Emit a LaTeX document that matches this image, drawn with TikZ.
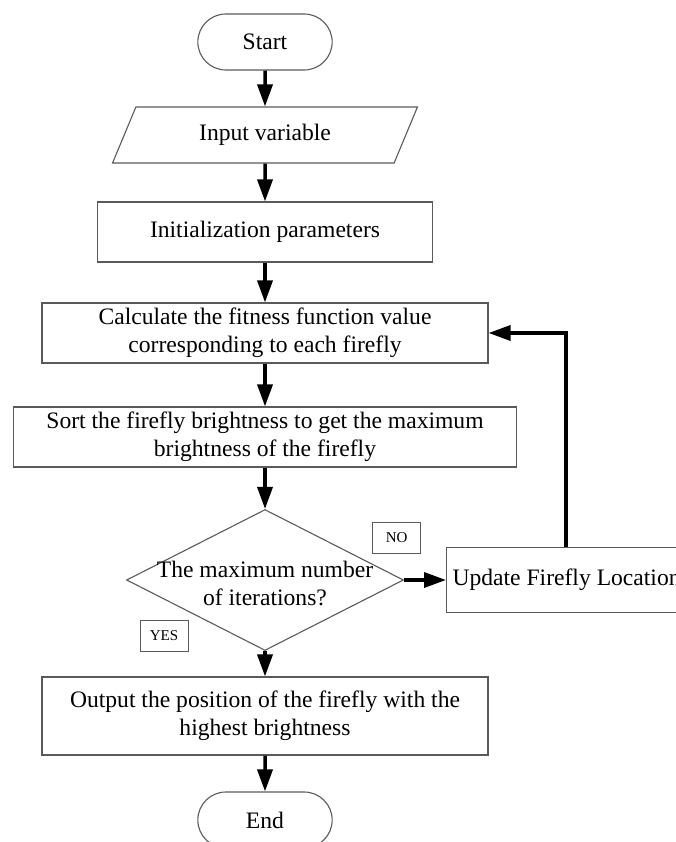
\documentclass[tikz,border=0pt]{standalone}
\usepackage{fontspec}
\setmainfont{Liberation Serif}
\usetikzlibrary{shapes.geometric, shapes.misc, positioning, arrows.meta, calc}
\definecolor{lineGrayF}{RGB}{90, 90, 90}
\tikzset{
  terminal/.style={rounded rectangle, minimum width=141pt, minimum height=56pt, text centered, draw=lineGrayF, line width=1.1pt},
  procbox/.style={rectangle, minimum height=60pt, align=center, draw=lineGrayF, line width=1.1pt},
  decision/.style={diamond, minimum width=277pt, minimum height=141pt, inner sep=0pt, draw=lineGrayF, line width=1.1pt},
  iobox/.style={trapezium, trapezium left angle=66, trapezium right angle=114, trapezium stretches=true, minimum width=305pt, minimum height=56pt, text centered, draw=lineGrayF, line width=1.1pt},
  tagbox/.style={rectangle, minimum width=48pt, minimum height=31pt, inner sep=2pt, draw=lineGrayF, line width=1pt, font=\fontsize{15}{18}\selectfont},
  flowarrow/.style={line width=3.5pt, -{Triangle[length=22pt, width=15pt]}}
}
\begin{document}
\begin{tikzpicture}[x=1pt, y=-1pt, font=\fontsize{23.6}{28}\selectfont]
            % Marco de la figura
            \useasboundingbox (0,0) rectangle (676,842);

            % Columna principal
            \node[terminal] (start) at (265,42) {Start};
            \node[iobox] (input) at (265,135) {Input variable};
            \node[procbox, minimum width=335pt] (init) at (265,232) {Initialization parameters};
            \node[procbox, minimum width=446pt] (calc) at (265,333) {Calculate the fitness function value\\corresponding to each firefly};
            \node[procbox, minimum width=503pt] (sort) at (265,437) {Sort the firefly brightness to get the maximum\\brightness of the firefly};
            \node[decision, label={[align=center, yshift=-3pt]center:The maximum number\\of iterations?}] (check) at (265,580) {};
            \node[procbox, minimum width=446pt, minimum height=78pt] (output) at (265,716) {Output the position of the firefly with the\\highest brightness};
            \node[terminal] (stop) at (265,820) {End};

            % Caja lateral
            \node[procbox, anchor=west, minimum height=65pt, inner xsep=6pt] (update) at (446,580) {Update Firefly Location};

            % Etiquetas NO / YES
            \node[tagbox] (no) at (396.7,537.5) {NO};
            \node[tagbox] (yes) at (164,636) {YES};

            % Flechas
            \draw[flowarrow] (start) -- (input);
            \draw[flowarrow] (input) -- (init);
            \draw[flowarrow] (init) -- (calc);
            \draw[flowarrow] (calc) -- (sort);
            \draw[flowarrow] (sort) -- (check);
            \draw[flowarrow] (check) -- (output);
            \draw[flowarrow] (output) -- (stop);
            \draw[flowarrow] (check.east) -- (update.west);
            \draw[flowarrow] ([xshift=120pt]update.north west) |- (calc.east);
        \end{tikzpicture}
\end{document}
